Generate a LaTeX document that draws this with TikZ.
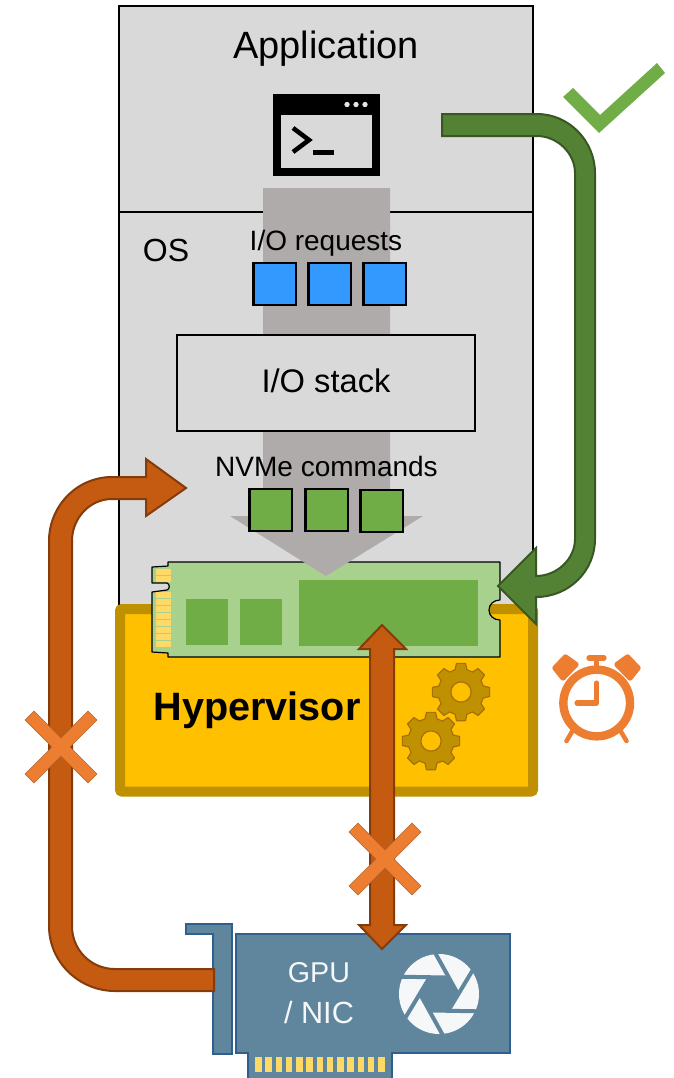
\documentclass[tikz,border=0pt]{standalone}
\usepackage{fontspec}
\setmainfont{Liberation Sans}
\definecolor{boxgray}{HTML}{D9D9D9}
\definecolor{flowgray}{HTML}{AFABAB}
\definecolor{reqblue}{HTML}{3399FF}
\definecolor{cmdgreen}{HTML}{70AD47}
\definecolor{ssdgreen}{HTML}{A9D18E}
\definecolor{hvfill}{HTML}{FFC000}
\definecolor{hvedge}{HTML}{BF9000}
\definecolor{gearedge}{HTML}{A5700A}
\definecolor{gold}{HTML}{FFD966}
\definecolor{arrowred}{HTML}{C55A11}
\definecolor{arrowredd}{HTML}{843C0C}
\definecolor{arrowgreen}{HTML}{548235}
\definecolor{arrowgreend}{HTML}{385723}
\definecolor{crossor}{HTML}{ED7D31}
\definecolor{cardblue}{HTML}{5F869C}
\definecolor{cardedge}{HTML}{2F5F8F}
\definecolor{iconwhite}{HTML}{F5F7F9}
\tikzset{
  label text/.style={inner sep=0pt,text=black},
  queue/.style={draw=black,line width=2pt,minimum width=32pt,minimum height=31.5pt,inner sep=0pt},
  blockred/.style={fill=arrowred,draw=arrowredd,line width=1.5pt,line join=miter},
  blockgreen/.style={fill=arrowgreen,draw=arrowgreend,line width=1.5pt,line join=miter},
  crossmark/.style={fill=crossor,draw=arrowred!70!gray,line width=.5pt},
  gearbody/.style={fill=hvedge,draw=gearedge,line width=.9pt,line join=round},
  cardpart/.style={fill=cardblue,draw=cardedge,line width=.8pt},
  clockline/.style={draw=crossor,line cap=round,line join=round}
}
\newcommand{\gearat}[2]{%
  \begin{scope}[shift={(#1,#2)}]
    \draw[gearbody] (-15:23) \foreach \a in {0,45,...,315}{ -- (\a-15:23) -- (\a-9:29) -- (\a+9:29) -- (\a+15:23)} -- cycle;
    \draw[fill=hvfill,draw=gearedge,line width=.9pt] (0,0) circle[radius=7.6pt];
  \end{scope}}
\newcommand{\crossat}[2]{%
  \begin{scope}[shift={(#1,#2)}]
    \draw[crossmark] (0,-9) -- (27,-36) -- (36,-27) -- (9,0) -- (36,27) -- (27,36) -- (0,9) -- (-27,36) -- (-36,27) -- (-9,0) -- (-36,-27) -- (-27,-36) -- cycle;
  \end{scope}}
\begin{document}
\begin{tikzpicture}[x=0.75pt,y=-0.75pt]
\useasboundingbox (0,0) rectangle (674,1078);
% stack background
\draw[fill=boxgray,draw=black,line width=1.5pt] (119,6) rectangle (533,612);
\draw[black,line width=1.5pt] (119,212) -- (533,212);
% hypervisor
\draw[fill=hvfill,draw=hvedge,line width=7.5pt,rounded corners=1.5pt] (120,609) rectangle (533,791.5);
% SSD
\draw[fill=ssdgreen,draw=black,line width=.9pt,line join=round] (168,562) -- (500,562) -- (500,600)
  .. controls (494,600) and (489,604) .. (489,610) .. controls (489,616) and (494,620) .. (500,620)
  -- (500,657) -- (168,657) -- (168,653) -- (152,652) -- (152,592) -- (167,590)
  .. controls (170,589) and (170,584) .. (167,583) -- (152,583) -- (152,567) -- (168,566) -- cycle;
\foreach \y in {569,575.5}{\fill[gold] (156,\y) rectangle (171,\y+6);}
\foreach \y in {592,599,606,613,620,627,634,641}{\fill[gold] (156,\y) rectangle (171,\y+6);}
\fill[cmdgreen] (186,599) rectangle (228,645);
\fill[cmdgreen] (240,599) rectangle (282,645);
\fill[cmdgreen] (299,580) rectangle (478,646);
% gray flow arrow
\fill[flowgray] (263,188) -- (390,188) -- (390,516) -- (423,516) -- (326,576) -- (230,516) -- (263,516) -- cycle;
% I/O stack
\node[draw=black,line width=1.2pt,fill=boxgray,minimum width=223.5pt,minimum height=72pt,inner sep=0pt] (iostack) at (326,383) {};
\node[label text] (iostacktext) at (326,381) {\fontsize{24.5}{28}\selectfont I/O stack};
% terminal icon
\fill[black] (273,94) rectangle (380,176);
\fill[boxgray] (281,115) rectangle (372,168);
\foreach \x in {347,356,365}{\fill[white!90!black] (\x,104.5) circle[radius=2pt];}
\draw[black,line width=3.4pt,line join=miter] (293,128) -- (309,140) -- (293,152);
\draw[black,line width=3.75pt] (313,152) -- (334,152);
% queues
\node[queue,fill=reqblue] (req1) at (274.5,284) {};
\node[queue,fill=reqblue] (req2) at (329.5,284) {};
\node[queue,fill=reqblue] (req3) at (384.5,284) {};
\node[queue,fill=cmdgreen] (cmd1) at (270.5,510) {};
\node[queue,fill=cmdgreen] (cmd2) at (326.5,510) {};
\node[queue,fill=cmdgreen] (cmd3) at (381.5,511) {};
% labels
\node[label text] (app) at (326,49) {\fontsize{28.5}{32}\selectfont Application};
\node[label text] (os) at (166,250) {\fontsize{24}{28}\selectfont OS};
\node[label text] (req) at (326,243) {\fontsize{21}{25}\selectfont I/O requests};
\node[label text] (nvme) at (326.5,466) {\fontsize{21}{25}\selectfont NVMe commands};
\node[label text] (hv) at (257,710) {\fontsize{29.7}{34}\selectfont\bfseries Hypervisor};
% gears
\gearat{461}{692}
\gearat{431}{741}
% card
\draw[cardpart] (186,924) -- (232,924) -- (232,1054) -- (213,1054) -- (213,934) -- (186,934) -- cycle;
\draw[cardpart] (248,1079) -- (248,1053) -- (236,1053) -- (236,934) -- (510,934) -- (510,1053) -- (392,1053) -- (392,1079);
\foreach \i in {0,...,12}{\fill[gold] ({255+\i*10.25},1057) rectangle ({261.5+\i*10.25},1072);}
\node[inner sep=0pt,text=iconwhite] (gpu) at (319,973) {\fontsize{21.5}{25}\selectfont GPU};
\node[inner sep=0pt,text=iconwhite] (nic) at (319,1013) {\fontsize{23}{27}\selectfont / NIC};
\begin{scope}[shift={(439,994)}]
  \fill[iconwhite] (0,0) circle[radius=30pt];
  \fill[cardblue] (0:19) -- (60:19) -- (120:19) -- (180:19) -- (240:19) -- (300:19) -- cycle;
  \foreach \a in {0,60,...,300}{\draw[cardblue,line width=3pt] (\a-95.7:42) -- (\a:19);}
\end{scope}
% left arrow
\draw[blockred] (214,969) -- (115,969) .. controls (91,969) and (72,950) .. (72,926) -- (72,541)
  .. controls (72,518) and (90,499) .. (112,499) -- (146,499) -- (146,516) -- (186,488) -- (146,459) -- (146,477) -- (112,477)
  .. controls (77,477) and (49,506) .. (49,541) -- (49,926) .. controls (49,962) and (79,991) .. (115,991) -- (214,991) -- cycle;
% double arrow
\draw[blockred] (382,625) -- (406,649) -- (394,649) -- (394,925) -- (406,925) -- (382,949) -- (359,925) -- (370,925) -- (370,649) -- (359,649) -- cycle;
% green arrow
\draw[blockgreen] (442,114) -- (537,114) .. controls (569,114) and (595,141) .. (595,173) -- (595,539)
  .. controls (595,571) and (569,597) .. (536,597) -- (536,624) -- (498,586) -- (536,548) -- (536,576)
  .. controls (557,576) and (575,559) .. (575,539) -- (575,173) .. controls (575,153) and (557,136) .. (537,136) -- (442,136) -- cycle;
% crosses
\crossat{61}{747}
\crossat{385}{859}
% check
\fill[cmdgreen] (563,97) -- (573,88) -- (600,115) -- (657,63) -- (665,73) -- (599,133) -- cycle;
% clock
\draw[crossor,line width=6.3pt] (596.7,703) circle[radius=25pt];
\draw[clockline,line width=3.8pt] (596.7,683) -- (596.7,703) -- (577,703);
\draw[clockline,line width=3.6pt] (596.7,658) -- (596.7,670);
\draw[clockline,line width=4pt] (589,658) -- (604,658);
\draw[clockline,fill=crossor,line width=4pt] (555,668) -- (565.5,657) -- (576,664.5) -- (563,678) -- cycle;
\draw[clockline,fill=crossor,line width=4pt] (638,668) -- (627.5,657) -- (617,664.5) -- (630,678) -- cycle;
\draw[clockline,line width=3.4pt] (573,730) -- (566.5,741);
\draw[clockline,line width=3.4pt] (620,730) -- (626.5,741);
\end{tikzpicture}
\end{document}
